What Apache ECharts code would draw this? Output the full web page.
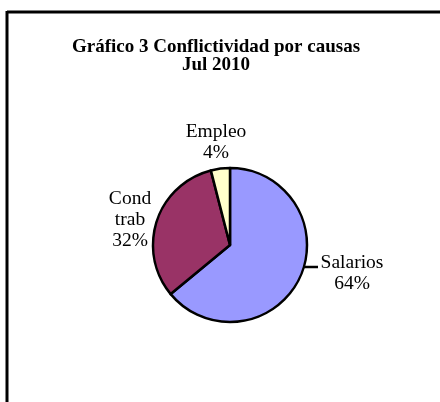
<!DOCTYPE html>
<html>
<head>
<meta charset="utf-8">
<script src="https://cdn.jsdelivr.net/npm/echarts@6/dist/echarts.min.js"></script>
<style>
html,body{margin:0;padding:0;background:#fff;}
#c{width:440px;height:402px;}
</style>
</head>
<body>
<div id="c"></div>
<script>
const categories = ['Salarios', 'Cond\ntrab', 'Empleo'];
const values = [64, 32, 4];
const colors = ['#9999FF', '#993366', '#FFFFCC'];
const titleText = 'Gráfico 3 Conflictividad por causas\nJul 2010';

const labelPos = [
  {x: 352, y: 273},
  {x: 130, y: 220},
  {x: 216, y: 142}
];

const chart = echarts.init(document.getElementById('c'), null, {renderer: 'canvas'});
chart.setOption({
  animation: false,
  backgroundColor: '#fff',
  title: {
    text: titleText,
    left: 211,
    top: 33,
    textAlign: 'center',
    textStyle: {
      fontFamily: 'Liberation Serif',
      fontWeight: 'bold',
      fontSize: 19,
      lineHeight: 18,
      color: '#000'
    }
  },
  graphic: [
    {type: 'line', shape: {x1: 7, y1: 12, x2: 440, y2: 12}, style: {stroke: '#000', lineWidth: 3}},
    {type: 'line', shape: {x1: 7, y1: 11, x2: 7, y2: 402}, style: {stroke: '#000', lineWidth: 3}}
  ],
  series: [{
    type: 'pie',
    center: [230, 245],
    radius: [0, 77],
    startAngle: 90,
    clockwise: true,
    data: categories.map((c, i) => ({
      name: c,
      value: values[i],
      itemStyle: {color: colors[i]},
      labelLine: {show: i === 0}
    })),
    itemStyle: {borderColor: '#000', borderWidth: 2.5},
    label: {
      show: true,
      formatter: p => p.name + '\n' + p.value + '%',
      fontFamily: 'Liberation Serif',
      fontSize: 19.5,
      lineHeight: 21,
      color: '#000',
      align: 'center'
    },
    labelLine: {
      lineStyle: {color: '#000', width: 2.5},
      length: 6,
      length2: 6
    },
    labelLayout: function (params) {
      const p = labelPos[params.dataIndex];
      const out = {x: p.x, y: p.y, align: 'center', verticalAlign: 'middle'};
      if (params.dataIndex === 0) {
        out.labelLinePoints = [[303, 267], [311, 267], [318, 267]];
      }
      return out;
    }
  }]
});
</script>
</body>
</html>
